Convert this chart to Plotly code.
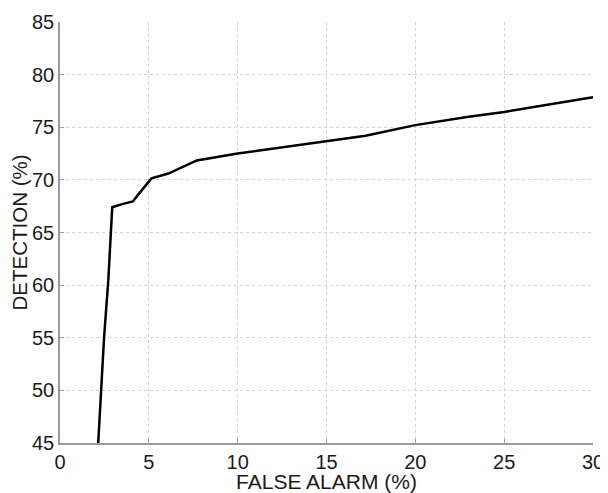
import plotly.graph_objects as go

false_alarm = [2.15, 2.3, 2.48, 2.72, 2.94, 3.5, 4.1, 4.4, 5.15, 6.1, 7.7, 10.0, 15.0, 17.2, 20.0, 23.0, 25.0, 30.0]
detection = [45.0, 50.0, 55.0, 60.5, 67.4, 67.7, 67.95, 68.6, 70.15, 70.6, 71.85, 72.5, 73.7, 74.2, 75.2, 76.0, 76.45, 77.85]

x_ticks = [0, 5, 10, 15, 20, 25, 30]
y_ticks = [45, 50, 55, 60, 65, 70, 75, 80, 85]

fig = go.Figure()
fig.add_trace(go.Scatter(x=false_alarm, y=detection, mode="lines",
                         line=dict(color="black", width=2.5), showlegend=False))

font = dict(family="Liberation Sans, Arial, sans-serif", size=20, color="#1a1a1a")
xtitle_font = dict(font, size=21)
ytitle_font = dict(font, size=20.5)
axis_common = dict(showgrid=True, gridcolor="#d2d2d2", griddash="dot", gridwidth=1,
                   showline=True, linecolor="#9a9a9a", linewidth=1.5,
                   ticks="inside", ticklen=4, tickcolor="#9a9a9a",
                   zeroline=False, tickfont=font, mirror=False, automargin=False)

# page body has an 8px default margin, so the figure is sized/offset to compensate
fig.update_layout(
    width=600, height=485,
    margin=dict(l=52, r=15, t=14, b=50),
    paper_bgcolor="white", plot_bgcolor="white",
    font=font,
    xaxis=dict(range=[0, 30], tickvals=x_ticks,
               title=dict(text="FALSE ALARM (%)", font=xtitle_font, standoff=3), **axis_common),
    yaxis=dict(range=[45, 85], tickvals=y_ticks,
               title=dict(text="DETECTION (%)", font=ytitle_font, standoff=0), **axis_common),
)

fig.write_html("out.html")
